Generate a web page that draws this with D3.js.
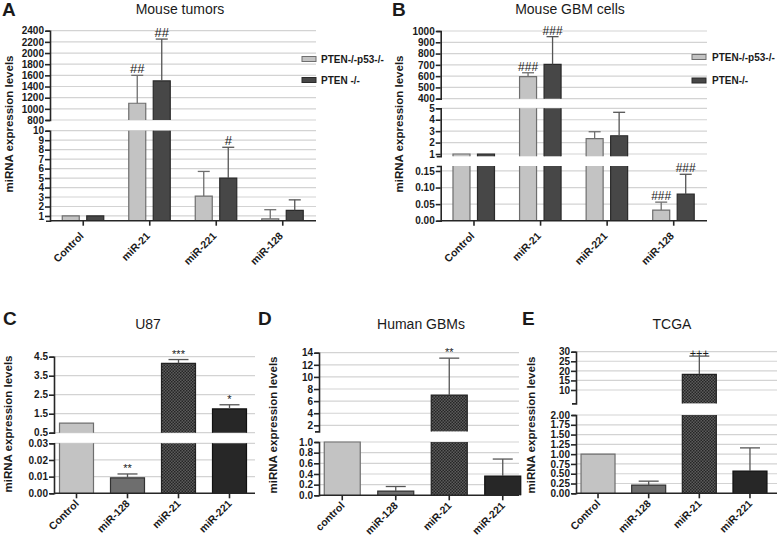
<!DOCTYPE html>
<html><head><meta charset="utf-8">
<script src="https://cdn.jsdelivr.net/npm/d3@7"></script>
<style>
body{margin:0;background:#fff}
svg{display:block}
text{font-family:"Liberation Sans",Arial,sans-serif;fill:#1a1a1a}
</style>
</head><body>
<svg id="chart" width="777" height="539"></svg>
<script>
// ---------------- DATA ----------------
const catsA = ["Control","miR-21","miR-221","miR-128"];
const seriesA = ["PTEN-/-p53-/-","PTEN -/-"];
const aP53 = [1, 1100, 3.1, 0.7];
const aP53Err = [null, 1600, 5.7, 1.66];
const aP53Sig = ["", "##", "", ""];
const aPten = [1, 1500, 5.0, 1.6];
const aPtenErr = [null, 2250, 8.25, 2.7];
const aPtenSig = ["", "##", "#", ""];
const aTicksHi = [800,1000,1200,1400,1600,1800,2000,2200,2400];
const aTicksLo = [1,2,3,4,5,6,7,8,9,10];

const catsB = ["Control","miR-21","miR-221","miR-128"];
const seriesB = ["PTEN-/-p53-/-","PTEN-/-"];
const bP53 = [1, 595, 2.35, 0.032];
const bP53Err = [null, 630, 2.95, 0.056];
const bP53Sig = ["", "###", "", "###"];
const bPten = [1, 705, 2.6, 0.08];
const bPtenErr = [null, 950, 4.65, 0.14];
const bPtenSig = ["", "###", "", "###"];
const bTicksHi = [400,500,600,700,800,900,1000];
const bTicksMid = [1,2,3,4,5];
const bTicksLo = [0,0.05,0.10,0.15];

const catsC = ["Control","miR-128","miR-21","miR-221"];
const cVals = [1.0, 0.0093, 4.15, 1.75];
const cErr = [null, 0.0116, 4.35, 1.97];
const cSig = ["", "**", "***", "*"];
const cTicksHi = [0.5,1.5,2.5,3.5,4.5];
const cTicksLo = [0,0.01,0.02,0.03];

const catsD = ["control","miR-128","miR-21","miR-221"];
const dVals = [1.0, 0.08, 7.0, 0.36];
const dErr = [null, 0.165, 13.1, 0.68];
const dSig = ["", "", "**", ""];
const dTicksHi = [2,4,6,8,10,12,14];
const dTicksLo = [0,0.2,0.4,0.6,0.8,1.0];

const catsE = ["Control","miR-128","miR-21","miR-221"];
const eVals = [1.0, 0.21, 18.2, 0.57];
const eErr = [null, 0.31, 27.7, 1.16];
const eSig = ["", "", "+++", ""];
const eTicksHi = [10,15,20,25,30];
const eTicksLo = [0,0.25,0.5,0.75,1.0,1.25,1.5,1.75,2.0];

const yLabel = "miRNA expression levels";

// ---------------- STYLE ----------------
const LIGHT = {fill:"#c3c3c3", stroke:"#6e6e6e", err:"#6e6e6e"};
const DARK  = {fill:"#474747", stroke:"#2a2a2a", err:"#555"};
const MED   = {fill:"#6e6e6e", stroke:"#333", err:"#555"};
const HATCH = {fill:"url(#hatch)", stroke:"#222", err:"#555"};
const BLACK = {fill:"#272727", stroke:"#111", err:"#555"};

const svg = d3.select("#chart");
const defs = svg.append("defs");
const pat = defs.append("pattern").attr("id","hatch").attr("width",3).attr("height",3)
  .attr("patternUnits","userSpaceOnUse");
pat.append("rect").attr("width",3).attr("height",3).attr("fill","#5c5c5c");
pat.append("rect").attr("width",1.5).attr("height",1.5).attr("fill","#262626");
pat.append("rect").attr("x",1.5).attr("y",1.5).attr("width",1.5).attr("height",1.5).attr("fill","#262626");

const f0 = d3.format("d"), f1 = d3.format(".1f"), f2 = d3.format(".2f");

const panels = [
  {letter:"A", lx:2, ly:16, title:"Mouse tumors", tx:180, ty:14, ylx:13, yly:124,
   axisX:50, xRange:[50,316], gridEnd:316, base:220.7, cats:catsA, xlab:[1,16],
   barW:17, offsets:[-12.5,12], capW:12, sigFont:"13px", sigFamily:"Liberation Serif",
   series:[{vals:aP53, err:aP53Err, sig:aP53Sig, style:()=>LIGHT},
           {vals:aPten, err:aPtenErr, sig:aPtenSig, style:()=>DARK}],
   segs:[{domain:[800,2400], range:[120,30.7], ticks:aTicksHi, fmt:f0},
         {domain:[0.5,10], range:[220.7,130.7], ticks:aTicksLo, fmt:f0}],
   legend:{x:302, y:[59,80], names:seriesA, tx:321}},
  {letter:"B", lx:392, ly:16, title:"Mouse GBM cells", tx:570, ty:14, ylx:403, yly:124,
   axisX:440.7, xRange:[440.7,707], gridEnd:707, base:220.7, cats:catsB, xlab:[1,16],
   barW:17, offsets:[-12.5,12], capW:12, sigFont:"12px", sigFamily:"Liberation Serif",
   series:[{vals:bP53, err:bP53Err, sig:bP53Sig, style:()=>LIGHT},
           {vals:bPten, err:bPtenErr, sig:bPtenSig, style:()=>DARK}],
   segs:[{domain:[400,1000], range:[98.7,31], ticks:bTicksHi, fmt:f0},
         {domain:[0.8,5], range:[156.3,108.3], ticks:bTicksMid, fmt:f0},
         {domain:[0,0.165], range:[220.7,166], ticks:bTicksLo, fmt:f2}],
   legend:{x:692, y:[57,80.5], names:seriesB, tx:712}},
  {letter:"C", lx:3, ly:325, title:"U87", tx:148, ty:329, ylx:12, yly:424,
   axisX:54, xRange:[51,255], gridEnd:255, base:493.3, cats:catsC, xlab:[3,11],
   barW:34, offsets:[0], capW:20, sigFont:"11px", sigFamily:"Liberation Sans",
   series:[{vals:cVals, err:cErr, sig:cSig, style:i=>[LIGHT,MED,HATCH,BLACK][i]}],
   segs:[{domain:[0.5,4.5], range:[432.7,356.7], ticks:cTicksHi, fmt:f1},
         {domain:[0,0.03], range:[493.3,443.3], ticks:cTicksLo, fmt:f2}]},
  {letter:"D", lx:258, ly:325, title:"Human GBMs", tx:421, ty:329, ylx:277, yly:425,
   axisX:319, xRange:[315.5,529.5], gridEnd:519, base:495.3, cats:catsD, xlab:[3,11],
   barW:36, offsets:[0], capW:20, sigFont:"11px", sigFamily:"Liberation Sans",
   series:[{vals:dVals, err:dErr, sig:dSig, style:i=>[LIGHT,MED,HATCH,BLACK][i]}],
   segs:[{domain:[1,14], range:[431.4,352.7], ticks:dTicksHi, fmt:f0},
         {domain:[0,1], range:[495.3,442], ticks:dTicksLo, fmt:f1}]},
  {letter:"E", lx:522, ly:325, title:"TCGA", tx:672, ty:329, ylx:535, yly:425,
   axisX:576, xRange:[572.7,775.3], gridEnd:777, base:493.3, cats:catsE, xlab:[3,11],
   barW:34, offsets:[0], capW:20, sigFont:"11px", sigFamily:"Liberation Sans",
   series:[{vals:eVals, err:eErr, sig:eSig, style:i=>[LIGHT,MED,HATCH,BLACK][i]}],
   segs:[{domain:[3,30], range:[403.4,351.7], ticks:eTicksHi, fmt:f0},
         {domain:[0,2], range:[493.3,415], ticks:eTicksLo, fmt:f2}]}
];

panels.forEach(p => {
  const g = svg.append("g");
  const segs = p.segs.map(s => Object.assign({}, s, {scale: d3.scaleLinear().domain(s.domain).range(s.range)}));
  const x = d3.scaleBand().domain(p.cats).range(p.xRange);

  // letter + title
  g.append("text").attr("x",p.lx).attr("y",p.ly).attr("font-size","19px").attr("font-weight","bold").text(p.letter);
  g.append("text").attr("x",p.tx).attr("y",p.ty).attr("text-anchor","middle").attr("font-size","14px").text(p.title);
  g.append("text").attr("transform",`translate(${p.ylx},${p.yly}) rotate(-90)`).attr("text-anchor","middle")
    .attr("font-size","11.5px").attr("font-weight","bold").text(yLabel);

  // grid
  segs.forEach(s => {
    g.append("g").selectAll("line").data(s.ticks.filter(t => s.scale(t) < p.base - 0.5)).join("line")
      .attr("x1",p.axisX).attr("x2",p.gridEnd)
      .attr("y1",d=>s.scale(d)).attr("y2",d=>s.scale(d))
      .attr("stroke","#d3d3d3").attr("stroke-width",1.2);
  });

  // bars
  p.series.forEach((ser, si) => {
    ser.vals.forEach((v,i) => {
      const st = ser.style(i);
      const cx = x(p.cats[i]) + x.bandwidth()/2 + p.offsets[si];
      const x0 = cx - p.barW/2, x1 = cx + p.barW/2;
      segs.forEach(s => {
        const [d0,d1] = s.domain;
        if (v <= d0) return;
        const top = Math.min(v,d1);
        const yT = s.scale(top), yB = s.scale(d0);
        g.append("rect").attr("x",x0).attr("y",yT).attr("width",p.barW).attr("height",yB-yT).attr("fill",st.fill);
        let path = `M${x0},${yB}V${yT}`;
        if (v <= d1) path += `H${x1}`; else path += `M${x1},${yT}`;
        path += `V${yB}`;
        g.append("path").attr("d",path).attr("fill","none").attr("stroke",st.stroke).attr("stroke-width",1.2);
      });
      const e = ser.err[i];
      if (e != null) {
        const s = segs.find(s => e >= s.domain[0] && e <= s.domain[1]);
        const yv = (v >= s.domain[0] && v <= s.domain[1]) ? s.scale(v) : s.range[0];
        const ye = s.scale(e);
        g.append("line").attr("x1",cx).attr("x2",cx).attr("y1",yv).attr("y2",ye).attr("stroke",st.err).attr("stroke-width",1.3);
        g.append("line").attr("x1",cx-p.capW/2).attr("x2",cx+p.capW/2).attr("y1",ye).attr("y2",ye).attr("stroke",st.err).attr("stroke-width",1.3);
      }
      const sig = ser.sig[i];
      if (sig) {
        const ref = e ?? v;
        const s = segs.find(s => ref >= s.domain[0] && ref <= s.domain[1]);
        const ys = s.scale(ref);
        g.append("text").attr("x",cx).attr("y", sig[0]==="+" ? ys+1 : ys-2).attr("text-anchor","middle")
          .attr("font-size",p.sigFont).attr("font-family",p.sigFamily).attr("fill","#333").text(sig);
      }
    });
  });

  // y axes
  segs.forEach(s => {
    const ax = g.append("g").attr("transform",`translate(${p.axisX},0)`)
      .call(d3.axisLeft(s.scale).tickValues(s.ticks).tickFormat(s.fmt).tickSize(5).tickSizeOuter(4));
    ax.selectAll("path,line").attr("stroke","#262626").attr("stroke-width",1.6);
    ax.selectAll("text").attr("font-size","10px").attr("font-weight","bold").attr("fill","#1a1a1a")
      .attr("font-family","Liberation Sans, Arial, sans-serif").attr("x",-6);
  });

  // x axis
  const xa = g.append("g").attr("transform",`translate(0,${p.base})`)
    .call(d3.axisBottom(x).tickSize(5).tickSizeOuter(0));
  xa.select(".domain").remove();
  xa.append("line").attr("x1",p.axisX).attr("x2",p.gridEnd).attr("stroke","#262626").attr("stroke-width",1.6);
  xa.selectAll(".tick line").attr("stroke","#262626").attr("stroke-width",1.6);
  xa.selectAll(".tick text").attr("font-size","10.5px").attr("font-weight","bold").attr("fill","#1a1a1a")
    .attr("font-family","Liberation Sans, Arial, sans-serif")
    .attr("text-anchor","end").attr("y",0).attr("dy",0)
    .attr("transform",`translate(${p.xlab[0]},${p.xlab[1]}) rotate(-45)`);

  // legend
  if (p.legend) {
    const L = p.legend;
    [LIGHT, DARK].forEach((st,k) => {
      g.append("rect").attr("x",L.x).attr("y",L.y[k]-2.5).attr("width",14).attr("height",5)
        .attr("fill",st.fill).attr("stroke",st.stroke).attr("stroke-width",1);
      g.append("text").attr("x",L.tx).attr("y",L.y[k]+3.5).attr("font-size","10px").attr("font-weight","bold").text(L.names[k]);
    });
  }
});
</script>
</body></html>
